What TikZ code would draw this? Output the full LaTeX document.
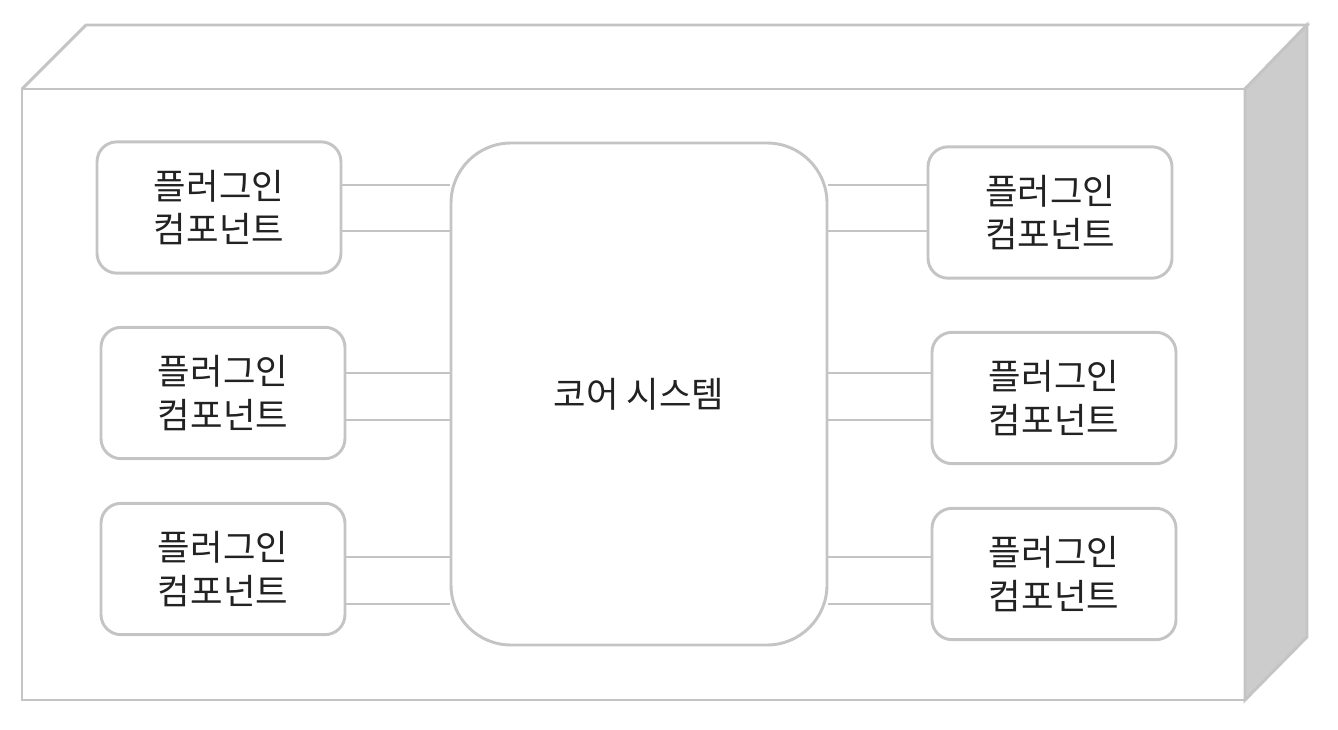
\documentclass[tikz,border=0pt]{standalone}
\usepackage{fontspec}
\setmainfont{Noto Sans CJK KR}
\begin{document}
\begin{tikzpicture}[x=0.75pt,y=-0.75pt,
  edge/.style={draw=linegray, line width=2.2pt},
  plugin/.style={draw=linegray, line width=2.2pt, fill=white, rounded corners=15pt,
    minimum width=183pt, minimum height=98.5pt, align=center, text=textdark,
    font=\fontsize{26.5}{32.5}\selectfont, inner sep=0pt},
  corebox/.style={draw=linegray, line width=2.2pt, fill=white, rounded corners=45pt,
    minimum width=282pt, minimum height=376.5pt, align=center, text=textdark,
    font=\fontsize{26.5}{32.5}\selectfont, inner sep=0pt}]
\definecolor{linegray}{HTML}{C4C4C4}
\definecolor{sidegray}{HTML}{CCCCCC}
\definecolor{textdark}{HTML}{222222}
\useasboundingbox (0,0) rectangle (1338,730);
% outer 3D box
\draw[edge, line join=miter] (22,89) -- (86,25) -- (1307,25) -- (1245,89);
\filldraw[edge, fill=sidegray, line join=miter] (1245,89) -- (1307,25) -- (1307,637) -- (1245,700) -- cycle;
\draw[edge, line join=miter] (22,89) rectangle (1245,700);
% core
\node[corebox] (core) at (639,394) {코어 시스템};
% plugins
\node[plugin] (l1) at (219,207.5) {플러그인\\컴포넌트};
\node[plugin] (l2) at (223,393) {플러그인\\컴포넌트};
\node[plugin] (l3) at (223,569) {플러그인\\컴포넌트};
\node[plugin] (r1) at (1050,212.5) {플러그인\\컴포넌트};
\node[plugin] (r2) at (1054,398) {플러그인\\컴포넌트};
\node[plugin] (r3) at (1054,574) {플러그인\\컴포넌트};
% connector levels
\coordinate (ya) at (0,185);
\coordinate (yb) at (0,231);
\coordinate (yc) at (0,373);
\coordinate (yd) at (0,420);
\coordinate (ye) at (0,557);
\coordinate (yf) at (0,604);
\draw[edge] (l1.east |- ya) -- (core.west |- ya);
\draw[edge] (l1.east |- yb) -- (core.west |- yb);
\draw[edge] (l2.east |- yc) -- (core.west |- yc);
\draw[edge] (l2.east |- yd) -- (core.west |- yd);
\draw[edge] (l3.east |- ye) -- (core.west |- ye);
\draw[edge] (l3.east |- yf) -- (core.west |- yf);
\draw[edge] (core.east |- ya) -- (r1.west |- ya);
\draw[edge] (core.east |- yb) -- (r1.west |- yb);
\draw[edge] (core.east |- yc) -- (r2.west |- yc);
\draw[edge] (core.east |- yd) -- (r2.west |- yd);
\draw[edge] (core.east |- ye) -- (r3.west |- ye);
\draw[edge] (core.east |- yf) -- (r3.west |- yf);
\end{tikzpicture}
\end{document}
